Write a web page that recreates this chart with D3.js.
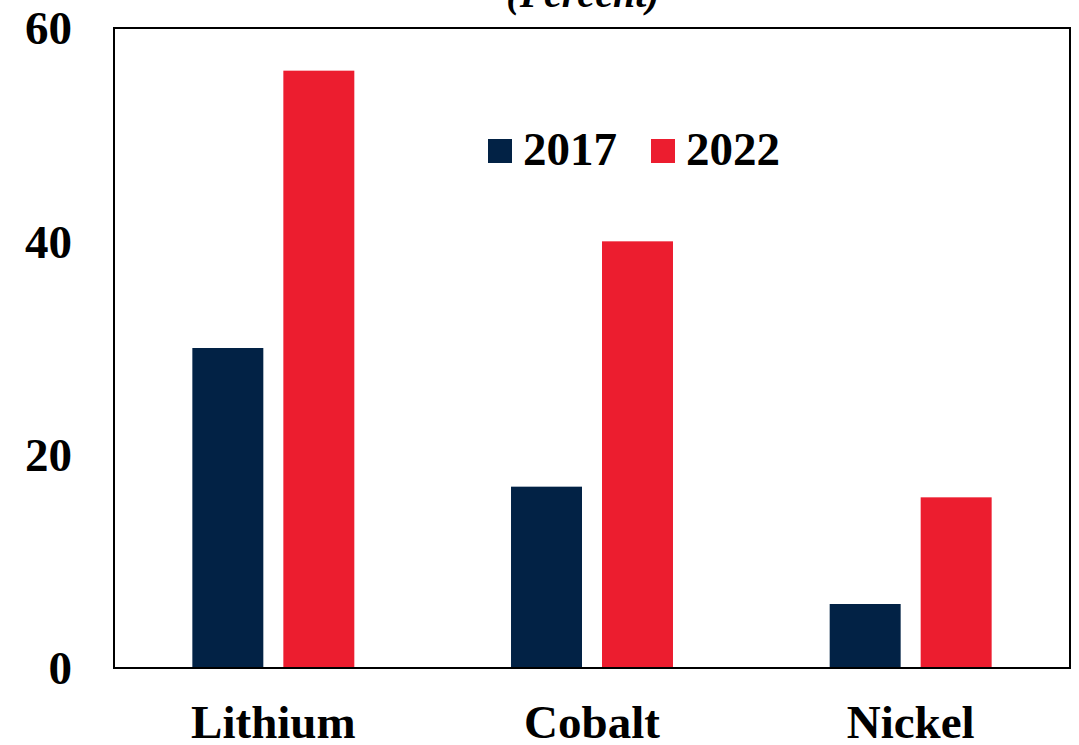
<!DOCTYPE html>
<html>
<head>
<meta charset="utf-8">
<script src="https://cdn.jsdelivr.net/npm/d3@7"></script>
<style>
  html, body { margin: 0; padding: 0; background: #fff; }
  svg { display: block; }
  text { font-family: "Liberation Serif", "Times New Roman", serif; font-weight: bold; fill: #000; }
</style>
</head>
<body>
<svg id="chart" width="1079" height="745"></svg>
<script>
// Market share by mineral, 2017 vs 2022
const categories = ["Lithium", "Cobalt", "Nickel"];
const years = ["2017", "2022"];
const values2017 = [30, 17, 6];
const values2022 = [56, 40, 16];
const yTicks = [0, 20, 40, 60];
const colors = { "2017": "#022245", "2022": "#EC1D2F" };

const rows = categories.map((c, i) => ({ category: c, "2017": values2017[i], "2022": values2022[i] }));

const svg = d3.select("#chart");
const margin = { left: 114, right: 9, top: 28, bottom: 77 };
const W = 1079, H = 745;
const innerW = W - margin.left - margin.right;
const innerH = H - margin.top - margin.bottom;

const g = svg.append("g").attr("transform", `translate(${margin.left},${margin.top})`);

const x0 = d3.scaleBand().domain(categories).range([0, innerW]).padding(0);
const x1 = d3.scaleBand().domain(years).range([0, x0.bandwidth()])
  .paddingInner(0.22).paddingOuter(0.861);
const y = d3.scaleLinear().domain([0, 60]).range([innerH, 0]);

// bars
const groups = g.selectAll("g.cat").data(rows).join("g")
  .attr("class", "cat")
  .attr("transform", d => `translate(${x0(d.category)},0)`);

groups.selectAll("rect").data(d => years.map(yr => ({ yr, v: d[yr] }))).join("rect")
  .attr("x", d => x1(d.yr))
  .attr("width", x1.bandwidth())
  .attr("y", d => y(d.v))
  .attr("height", d => innerH - y(d.v))
  .attr("fill", d => colors[d.yr]);

// plot frame
g.append("rect")
  .attr("x", 0).attr("y", 0)
  .attr("width", innerW).attr("height", innerH)
  .attr("fill", "none").attr("stroke", "#000").attr("stroke-width", 2);

// y axis labels
const yAxis = d3.axisLeft(y).tickValues(yTicks).tickSize(0).tickPadding(42);
const ya = g.append("g").call(yAxis);
ya.select(".domain").remove();
ya.selectAll("text")
  .style("font-family", '"Liberation Serif", "Times New Roman", serif')
  .style("font-weight", "bold").style("font-size", "47px").attr("fill", "#000")
  .attr("dy", "0.34em");

// x axis labels
const xAxis = d3.axisBottom(x0).tickSize(0).tickPadding(37);
const xa = g.append("g").attr("transform", `translate(0,${innerH})`).call(xAxis);
xa.select(".domain").remove();
xa.selectAll("text")
  .style("font-family", '"Liberation Serif", "Times New Roman", serif')
  .style("font-weight", "bold").style("font-size", "47px").attr("fill", "#000")
  .attr("dy", "0.71em");

// title
svg.append("text")
  .attr("x", 583).attr("y", 7)
  .attr("text-anchor", "middle")
  .style("font-size", "40px").style("font-style", "italic")
  .text("(Percent)");

// legend
const legendX = [488, 651];
const legend = svg.append("g");
years.forEach((yr, i) => {
  legend.append("rect")
    .attr("x", legendX[i]).attr("y", 139)
    .attr("width", 24).attr("height", 24)
    .attr("fill", colors[yr]);
  legend.append("text")
    .attr("x", legendX[i] + 35).attr("y", 165)
    .style("font-size", "47px")
    .text(yr);
});
</script>
</body>
</html>
